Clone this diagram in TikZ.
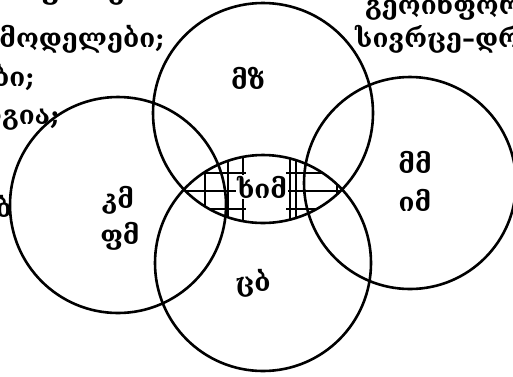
\documentclass[tikz,border=0pt]{standalone}
\usepackage{fontspec}
\setmainfont{DejaVu Serif}
\begin{document}
\begin{tikzpicture}[x=1pt,y=-1pt,
  ring/.style={line width=2.6pt},
  hatch/.style={line width=1.3pt},
  lbl/.style={font=\bfseries\fontsize{26}{28}\selectfont, inner sep=0pt},
  frag/.style={font=\bfseries\fontsize{26}{28}\selectfont, inner sep=0pt}]
\useasboundingbox (0,0) rectangle (513,376);
\begin{scope}
\clip (0,0) rectangle (513,376);
% background text fragments
\node[frag, anchor=base east] (f1) at (140,-1) {ფიზიკა};
\node[frag, anchor=base east] (f2) at (165,47) {მოდელები;};
\node[frag, anchor=base east] (f3) at (35,86) {ობები;};
\node[frag, anchor=base east] (f4) at (60,124) {ოლოგია;};
\node[frag, anchor=base east] (f5) at (12,217) {ბ};
\node[frag, anchor=base west] (f6) at (365,14) {გეოინფორმაცია};
\node[frag, anchor=base west] (f7) at (355,47) {სივრცე–დრო};
% circles
\draw[ring] (263,113) circle (110pt);
\draw[ring] (263,263) circle (108pt);
\draw[ring] (118,205) circle (108pt);
\draw[ring] (410,183) circle (106pt);
\end{scope}
% hatching of the central lens
\begin{scope}
\clip (263,113) circle (110pt);
\clip (263,263) circle (108pt);
\foreach \x in {205,228,243,290,296,337}
  \draw[hatch] (\x,150) -- (\x,230);
\foreach \y in {173,191,209} {
  \draw[hatch] (170,\y) -- (246,\y);
  \draw[hatch] (286,\y) -- (355,\y);
}
\end{scope}
% labels
\node[lbl] (mz) at (248,78) {მზ};
\node[lbl] (km) at (118,200) {კმ};
\node[lbl] (pm) at (120,236) {ფმ};
\node[lbl] (mm) at (415,162) {მმ};
\node[lbl] (im) at (415,200) {იმ};
\node[lbl] (cb) at (253,283) {ცბ};
\node[lbl, fill=white, inner sep=1pt] (khim) at (262,187) {ხიმ};
\end{tikzpicture}
\end{document}
